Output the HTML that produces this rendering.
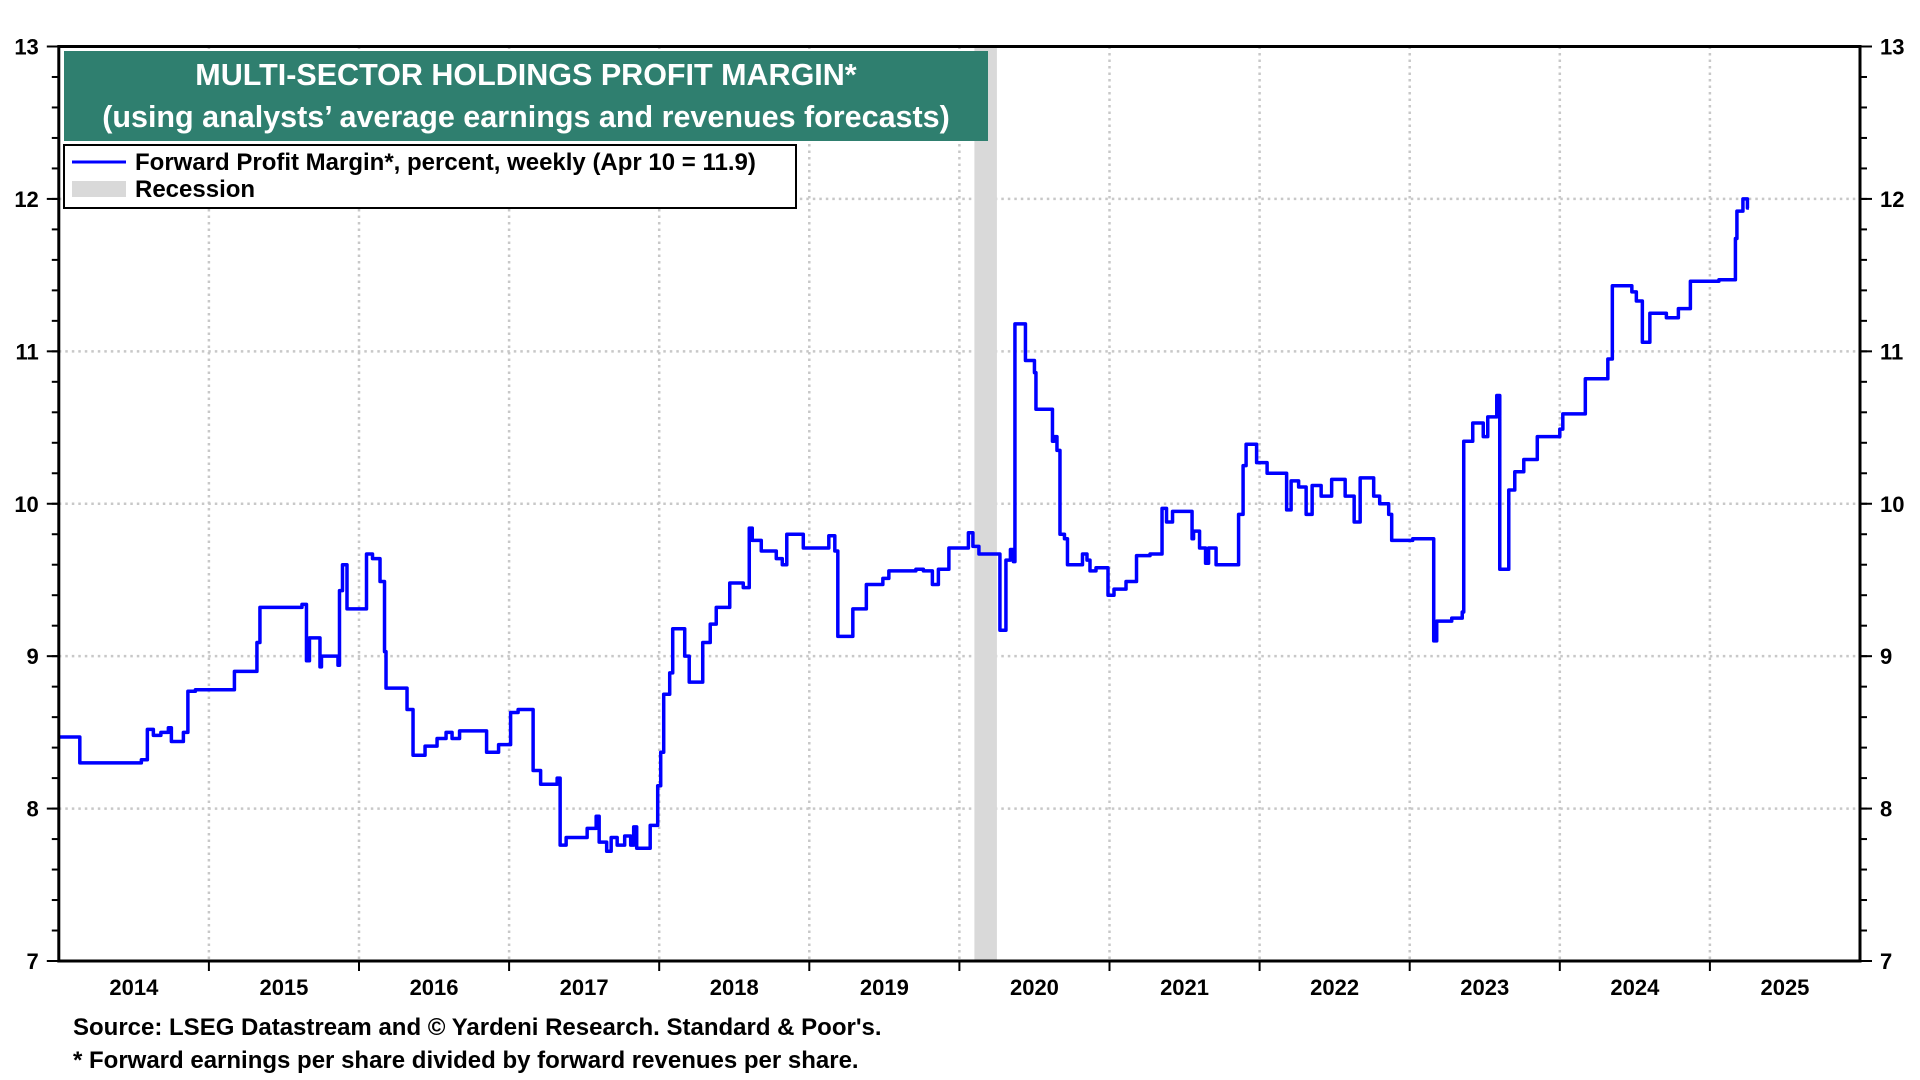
<!DOCTYPE html>
<html><head><meta charset="utf-8"><style>
html,body{margin:0;padding:0;background:#fff;}
svg{display:block;font-family:"Liberation Sans",Arial,sans-serif;font-weight:bold;}
</style></head><body>
<svg id="chart" width="1920" height="1080" viewBox="0 0 1920 1080" xmlns="http://www.w3.org/2000/svg">
<g id="grid"></g>
<g id="recession"></g>
<g id="axes"></g>
<path id="line" fill="none" stroke="#0000ff" stroke-width="3.5" stroke-linejoin="round"/>
<rect x="58.8" y="46.5" width="1801.2" height="914.5" fill="none" stroke="#000" stroke-width="3"/>
<g>
<rect x="64" y="51" width="924" height="90" fill="#2f7f6f"/>
<text x="526" y="85" text-anchor="middle" fill="#fff" font-size="30.5">MULTI-SECTOR HOLDINGS PROFIT MARGIN*</text>
<text x="526" y="127" text-anchor="middle" fill="#fff" font-size="30.5">(using analysts’ average earnings and revenues forecasts)</text>
</g>
<g>
<rect x="64" y="145" width="732" height="63" fill="#fff" stroke="#000" stroke-width="2"/>
<line x1="72" y1="162" x2="126" y2="162" stroke="#0000ff" stroke-width="3"/>
<text x="135" y="170" font-size="24">Forward Profit Margin*, percent, weekly (Apr 10 = 11.9)</text>
<rect x="72" y="181" width="54" height="16" fill="#d9d9d9"/>
<text x="135" y="197" font-size="24">Recession</text>
</g>
<text x="73" y="1035" font-size="24">Source: LSEG Datastream and © Yardeni Research. Standard &amp; Poor's.</text>
<text x="73" y="1068" font-size="24">* Forward earnings per share divided by forward revenues per share.</text>
</svg>
<script>
const dates=[2014.00,2014.14,2014.55,2014.59,2014.63,2014.68,2014.73,2014.75,2014.83,2014.86,2014.91,2015.17,2015.32,2015.34,2015.62,2015.65,2015.67,2015.74,2015.75,2015.86,2015.87,2015.89,2015.92,2016.05,2016.09,2016.14,2016.17,2016.18,2016.32,2016.36,2016.44,2016.52,2016.58,2016.62,2016.67,2016.85,2016.93,2017.01,2017.06,2017.16,2017.21,2017.32,2017.34,2017.38,2017.52,2017.58,2017.60,2017.65,2017.68,2017.72,2017.77,2017.81,2017.83,2017.85,2017.94,2017.99,2018.01,2018.03,2018.07,2018.09,2018.17,2018.20,2018.29,2018.34,2018.38,2018.47,2018.56,2018.60,2018.62,2018.68,2018.78,2018.82,2018.85,2018.96,2019.13,2019.17,2019.19,2019.29,2019.38,2019.49,2019.53,2019.71,2019.76,2019.82,2019.86,2019.93,2020.06,2020.09,2020.13,2020.27,2020.31,2020.34,2020.36,2020.37,2020.44,2020.50,2020.51,2020.62,2020.63,2020.65,2020.67,2020.70,2020.72,2020.82,2020.85,2020.87,2020.91,2020.99,2021.03,2021.11,2021.18,2021.27,2021.35,2021.38,2021.42,2021.55,2021.56,2021.60,2021.64,2021.66,2021.71,2021.86,2021.89,2021.91,2021.98,2022.05,2022.18,2022.21,2022.26,2022.31,2022.35,2022.41,2022.48,2022.57,2022.63,2022.67,2022.76,2022.80,2022.86,2022.88,2023.02,2023.16,2023.18,2023.28,2023.35,2023.36,2023.42,2023.49,2023.52,2023.58,2023.60,2023.66,2023.70,2023.76,2023.85,2024.00,2024.02,2024.17,2024.32,2024.35,2024.48,2024.51,2024.55,2024.60,2024.71,2024.79,2024.87,2025.06,2025.17,2025.18,2025.22,2025.25,2025.26];
const values=[8.47,8.30,8.32,8.52,8.48,8.50,8.53,8.44,8.50,8.77,8.78,8.90,9.09,9.32,9.34,8.97,9.12,8.93,9.00,8.94,9.43,9.60,9.31,9.67,9.64,9.49,9.03,8.79,8.65,8.35,8.41,8.46,8.50,8.46,8.51,8.37,8.42,8.63,8.65,8.25,8.16,8.20,7.76,7.81,7.87,7.95,7.78,7.72,7.81,7.76,7.82,7.76,7.88,7.74,7.89,8.15,8.37,8.75,8.89,9.18,9.00,8.83,9.09,9.21,9.32,9.48,9.45,9.84,9.76,9.69,9.64,9.60,9.80,9.71,9.79,9.69,9.13,9.31,9.47,9.51,9.56,9.57,9.56,9.47,9.57,9.71,9.81,9.72,9.67,9.17,9.63,9.70,9.62,11.18,10.94,10.86,10.62,10.41,10.44,10.35,9.80,9.77,9.60,9.67,9.63,9.56,9.58,9.40,9.44,9.49,9.66,9.67,9.97,9.88,9.95,9.77,9.82,9.71,9.61,9.71,9.60,9.93,10.25,10.39,10.27,10.20,9.96,10.15,10.11,9.93,10.12,10.05,10.16,10.05,9.88,10.17,10.05,10.00,9.93,9.76,9.77,9.10,9.23,9.25,9.29,10.41,10.53,10.44,10.57,10.71,9.57,10.09,10.21,10.29,10.44,10.49,10.59,10.82,10.95,11.43,11.39,11.33,11.06,11.25,11.22,11.28,11.46,11.47,11.74,11.92,12.00,11.94,11.94];
const yTicks=[7,8,9,10,11,12,13];
const yearLabels=["2014","2015","2016","2017","2018","2019","2020","2021","2022","2023","2024","2025"];
const recessions=[[2020.10,2020.25]];

const L=58.8,R=1860,T=46.5,B=961,X0=2014,X1=2026,Y0=7,Y1=13;
const xs=v=>L+(v-X0)/(X1-X0)*(R-L);
const ys=v=>B-(v-Y0)/(Y1-Y0)*(B-T);
const NS="http://www.w3.org/2000/svg";
function mk(tag,attrs,parent){const e=document.createElementNS(NS,tag);for(const k in attrs)e.setAttribute(k,attrs[k]);parent.appendChild(e);return e;}
const grid=document.getElementById('grid'),axes=document.getElementById('axes'),rec=document.getElementById('recession');
recessions.forEach(r=>{const e=mk('rect',{x:xs(r[0]),y:T,width:xs(r[1])-xs(r[0]),height:B-T,fill:'#d9d9d9'},rec);

});
yTicks.forEach(v=>{const y=ys(v);
if(v>Y0&&v<Y1){const g=mk('line',{x1:L,x2:R,y1:y,y2:y,stroke:'#c8c8c8','stroke-width':2.5,'stroke-dasharray':'2.5,4'},grid);

}
[[L-38,'end'],[R+12,'start']].forEach(p=>{const t=mk('text',{x:p[1]==='end'?L-20:R+20,y:y+8,'font-size':22,'text-anchor':p[1]},axes);t.textContent=v;

});
mk('line',{x1:L-12,x2:L,y1:y,y2:y,stroke:'#000','stroke-width':2},axes);
mk('line',{x1:R,x2:R+12,y1:y,y2:y,stroke:'#000','stroke-width':2},axes);});
for(let v=Y0;v<Y1;v+=0.2){const y=ys(v);mk('line',{x1:L-7,x2:L,y1:y,y2:y,stroke:'#000','stroke-width':2},axes);mk('line',{x1:R,x2:R+7,y1:y,y2:y,stroke:'#000','stroke-width':2},axes);}
yearLabels.forEach((lab,i)=>{const yr=X0+i;
if(i>0){const x=xs(yr);const g=mk('line',{x1:x,x2:x,y1:T,y2:B,stroke:'#c8c8c8','stroke-width':2.5,'stroke-dasharray':'2.5,4'},grid);


mk('line',{x1:x,x2:x,y1:B,y2:B+10,stroke:'#000','stroke-width':2},axes);}
const t=mk('text',{x:xs(yr+0.5),y:995,'font-size':22,'text-anchor':'middle'},axes);t.textContent=lab;

});
let d='M'+xs(dates[0])+','+ys(values[0]);
for(let i=1;i<dates.length;i++){d+='H'+xs(dates[i])+'V'+ys(values[i]);}
document.getElementById('line').setAttribute('d',d);
</script>
</body></html>
